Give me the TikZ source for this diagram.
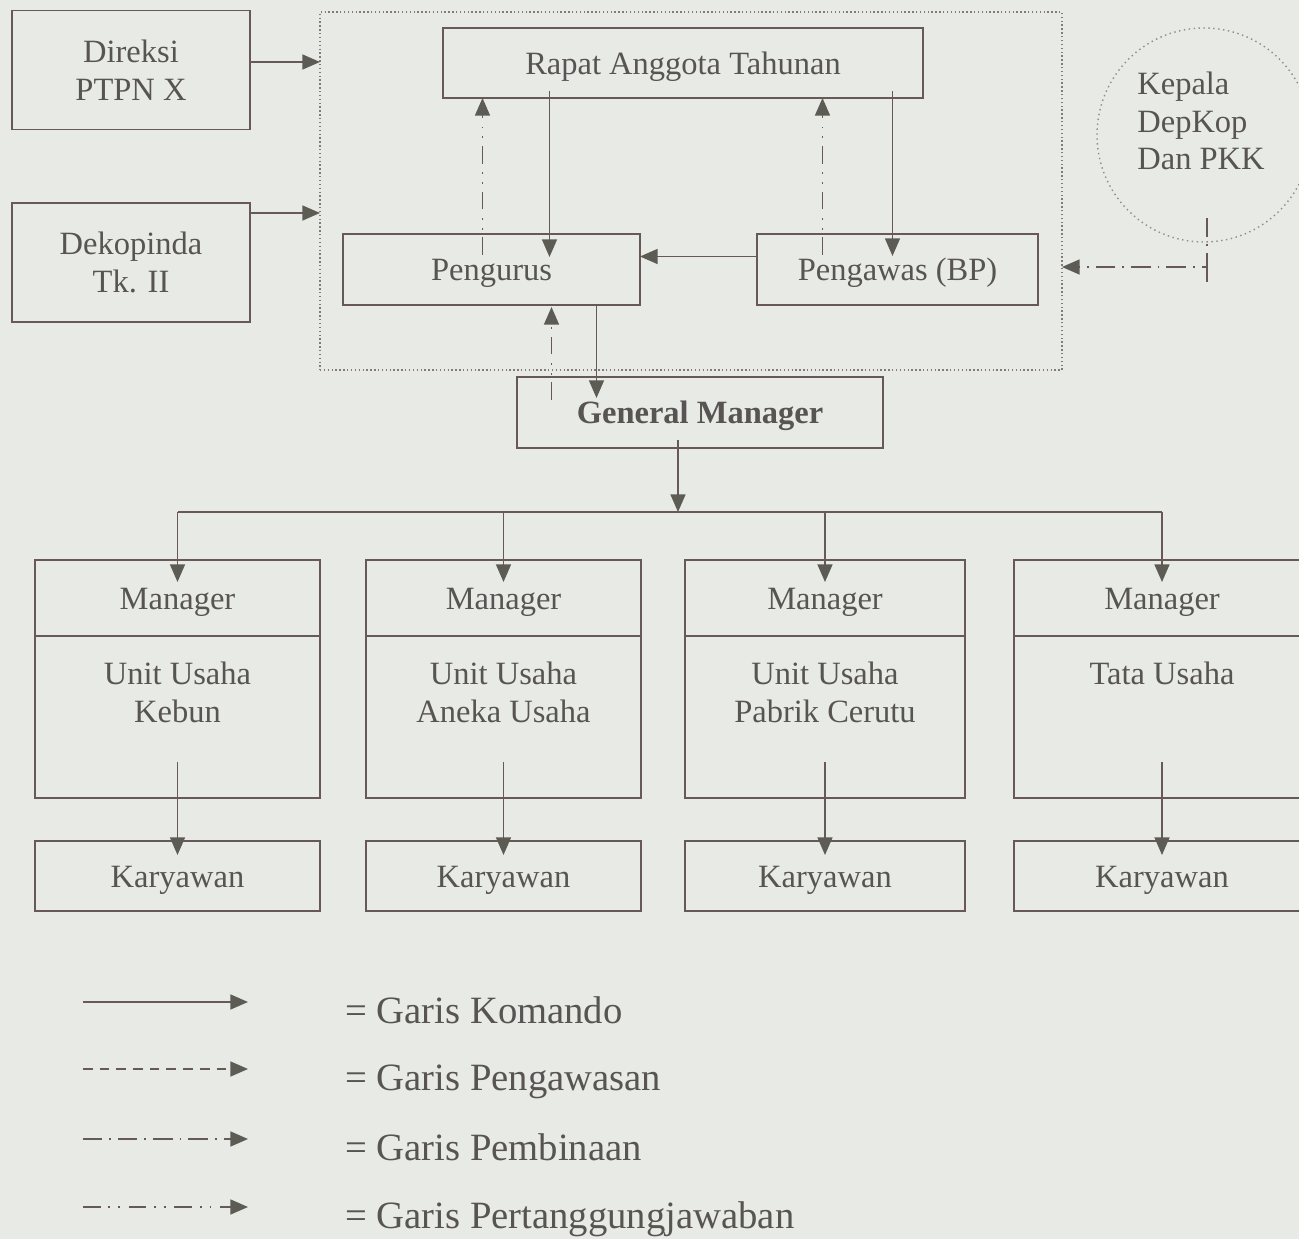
\documentclass[tikz,border=0pt]{standalone}
\usepackage{fontspec}
\setmainfont{Liberation Serif}
\usetikzlibrary{positioning,calc,arrows.meta}
\definecolor{paper}{RGB}{231,234,229}
\definecolor{ink}{RGB}{105,88,88}
\definecolor{tipc}{RGB}{92,92,84}
\definecolor{txtc}{RGB}{88,84,84}
\newcommand{\px}{0.02cm}

\begin{document}
\begin{tikzpicture}[
    x=0.02cm, y=-0.02cm,
    >={Triangle[length=10pt,width=8.5pt,color=tipc]},
    wh/.style 2 args={minimum width=#1*\px, minimum height=#2*\px},
    box/.style={draw=ink, line width=1pt, inner sep=0pt, outer sep=0pt, text=txtc, align=center,
      font=\fontsize{18.5}{21.5}\selectfont},
    one/.style={text height=13.7pt, text depth=0.9pt},
    group/.style={draw=ink!80, line width=0.8pt, dash pattern=on 0.8pt off 1.4pt, inner sep=0pt, outer sep=0pt},
    ring/.style={circle, draw=ink!70, line width=0.8pt, dash pattern=on 0.8pt off 2pt, inner sep=0pt},
    legtxt/.style={text=txtc, inner sep=0pt, font=\fontsize{22}{26}\selectfont},
    link/.style={->, draw=ink, line width=0.9pt},
    cmd/.style={link},
    awas/.style={link, dash pattern=on 5.5pt off 4pt},
    bina/.style={link, dash pattern=on 11pt off 4pt on 1pt off 4pt},
    tjawab/.style={link, dash pattern=on 10pt off 4.5pt on 1pt off 4.5pt on 1pt off 5pt},
]
\fill[paper] (0,0) rectangle (1299,1239);
\useasboundingbox (0,0) rectangle (1299,1239);
\clip (0,0) rectangle (1299,1239);

\node[group, wh={742}{358}] (kop) at (691,191) {};
\node[box, wh={238}{119}] (direksi) at (131,70) {Direksi\\PTPN X};
\node[box, wh={238}{119}] (dekop) at (131,262.5) {Dekopinda\\Tk. II};
\node[box, one, wh={480}{70}] (rapat) at (683,63) {Rapat Anggota Tahunan};
\node[box, one, wh={297}{71}] (pengurus) at (491.5,269.5) {Pengurus};
\node[box, one, wh={281}{71}] (pengawas) at (897.5,269.5) {Pengawas (BP)};
\node[box, one, wh={366}{71}, font=\fontsize{18.5}{21.5}\selectfont\bfseries] (gm) at (700,412.5) {General Manager};
\node[ring, minimum size=214*\px] (kepala) at (1204,135) {};
\node[box, draw=none, align=left] (kepalat) at (1201,121) {Kepala\\DepKop\\Dan PKK};

\draw[cmd] ($(direksi.east)+(0,-8)$) -- ($(direksi.east -| kop.west)+(0,-8)$);
\draw[cmd] ($(dekop.east)+(0,-49.5)$) -- ($(dekop.east -| kop.west)+(0,-49.5)$);
\draw[cmd] ($(pengurus.north |- rapat.south)+(58,-7)$) -- ($(pengurus.north)+(58,23)$);
\draw[tjawab] ($(pengurus.north)+(-9,21)$) -- ($(pengurus.north |- rapat.south)+(-9,0)$);
\draw[cmd] ($(pengawas.north |- rapat.south)+(-5,-7)$) -- ($(pengawas.north)+(-5,22)$);
\draw[tjawab] ($(pengawas.north)+(-75,21)$) -- ($(pengawas.north |- rapat.south)+(-75,0)$);
\draw[cmd] ($(pengawas.west)+(0,-13)$) -- ($(pengurus.east)+(0,-13)$);
\draw[cmd] ($(pengurus.south)+(105,0)$) -- ($(gm.north -| pengurus.south)+(105,21)$);
\draw[tjawab] ($(gm.north -| pengurus.south)+(60,23)$) -- ($(pengurus.south)+(60,2)$);

\coordinate (kturn) at ($(kepala.center)+(3,132)$);
\draw[ink, line width=0.9pt] (kturn) -- ($(kturn)+(0,15)$);
\draw[bina] ($(kepala.center)+(3,83)$) -- (kturn) -- (kturn -| kop.east);

\coordinate (bus) at ($(gm.south)+(-22,64)$);
\draw[cmd] ($(gm.south)+(-22,-8)$) -- (bus);

\foreach \i/\cx/\w/\txt in {1/177.5/285/{Unit Usaha\\Kebun}, 2/503.5/275/{Unit Usaha\\Aneka Usaha},
    3/825/280/{Unit Usaha\\Pabrik Cerutu}, 4/1162/296/{Tata Usaha}} {
  \node[box, one, wh={\w}{76}] (mgr\i) at (\cx,598) {Manager};
  \node[box, wh={\w}{162}, below=0pt of mgr\i] (unit\i) {};
  \node[box, draw=none, anchor=north] (unitt\i) at ($(unit\i.north)+(0,26)$) {\txt};
  \node[box, one, wh={\w}{70}] (kary\i) at (\cx,876) {Karyawan};
  \draw[cmd] ($(unit\i.south)+(0,-36)$) -- ($(kary\i.north)+(0,14)$);
}
\draw[ink, line width=0.9pt] (bus -| mgr1) -- (bus -| mgr4);
\foreach \i in {1,...,4}
  \draw[cmd] (bus -| mgr\i) -- ($(mgr\i.north)+(0,22)$);

\foreach \i/\yy/\sty/\txt in {1/1023/cmd/Komando, 2/1090/awas/Pengawasan,
    3/1160/bina/Pembinaan, 4/1228/tjawab/Pertanggungjawaban} {
  \node[legtxt, anchor=base west] (leg\i) at (345,\yy) {= Garis \txt};
  \draw[\sty] ($(leg\i.base west)+(-262,-21)$) -- ($(leg\i.base west)+(-97,-21)$);
}
\end{tikzpicture}
\end{document}
